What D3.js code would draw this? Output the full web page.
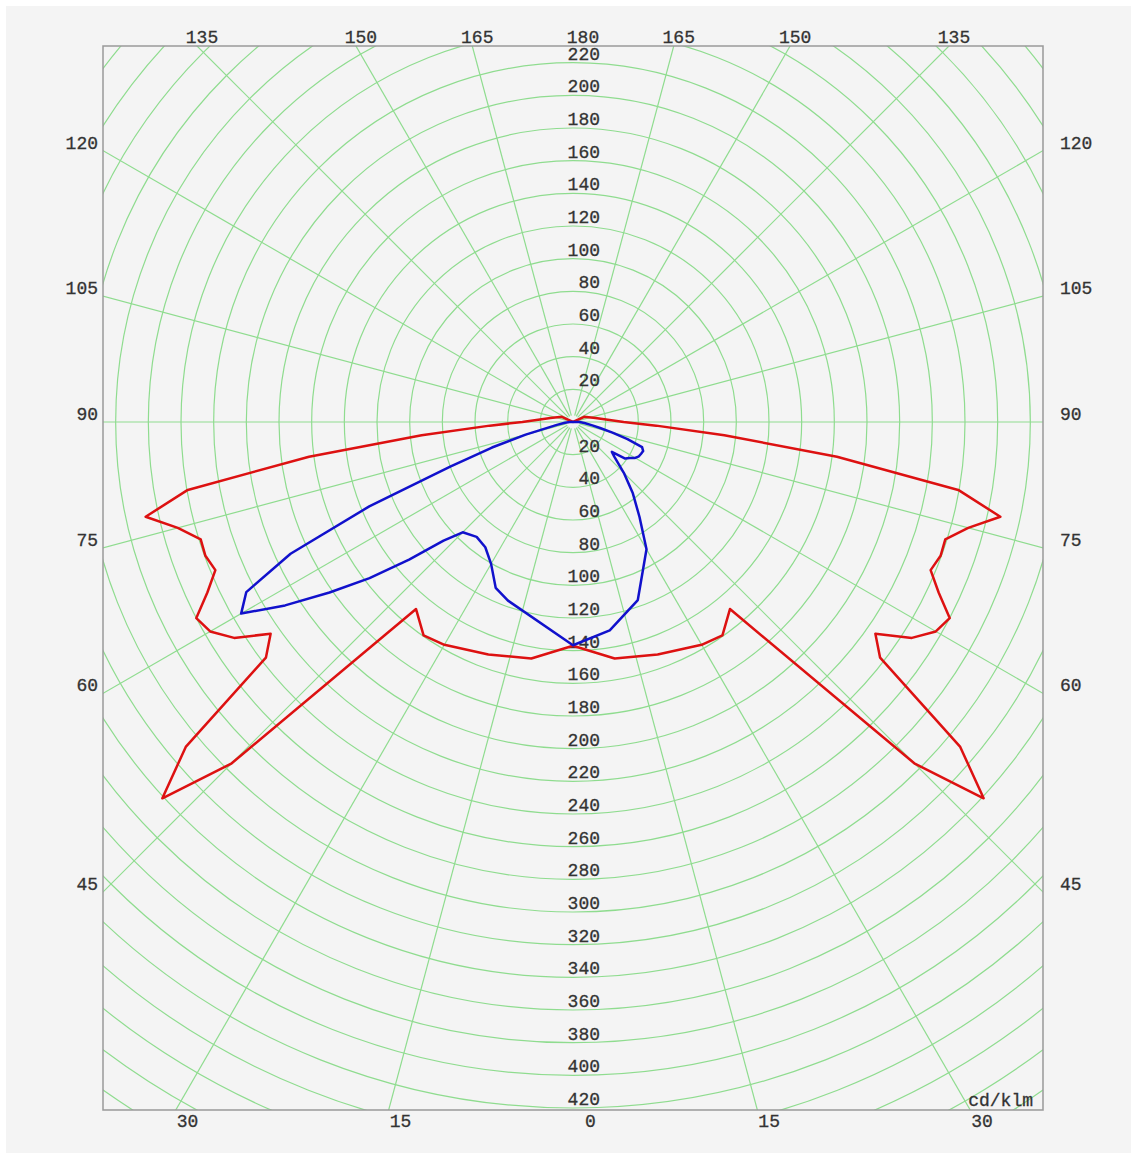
<!DOCTYPE html>
<html>
<head>
<meta charset="utf-8">
<script src="https://cdn.jsdelivr.net/npm/d3@7"></script>
<style>
  body { margin: 0; background: #ffffff; }
  text { font-family: "Liberation Mono", "DejaVu Sans Mono", monospace; font-size: 18px; fill: #333; stroke: #333; stroke-width: 0.3px; }
</style>
</head>
<body>
<script>

// gamma angles (deg) and intensities (cd/klm)
var redGamma = [0, 10, 20, 30, 35, 40, 45, 47.5, 50, 52.5, 55, 57.5, 60, 62.5, 65, 67.5, 70, 72.5, 75, 77.5, 80, 82.5, 85, 87.5, 90, 100, 115, 180];
var redI     = [137, 147, 151.5, 157.5, 159.5, 149.5, 295.5, 341, 309.5, 237, 226, 246, 256.5, 260, 247, 237, 239.5, 239, 250.5, 268, 239.5, 163, 93, 51, 31, 14, 7.5, 0];

var blueLeftGamma = [0, 20, 25, 30, 35, 40, 45, 47.5, 50, 52.5, 55, 57.5, 60, 62.5, 65, 67.5, 70, 72.5, 75, 80, 85, 90, 180];
var blueLeftI     = [136.7, 116.4, 112, 100.3, 93.6, 91.8, 95.5, 107.5, 131, 157, 182, 209, 234.6, 225.5, 190.8, 135, 80, 52, 30, 10, 5, 2, 0];

var blueRightGamma = [0, 10, 20, 30, 35, 40, 45, 50, 52.5, 55, 57.5, 60, 62.5, 65, 67.5, 70, 72.5, 75, 77.5, 80, 85, 90, 180];
var blueRightI     = [136.7, 129.5, 116, 90, 71, 57, 44, 33, 30, 39, 41, 44, 45.5, 46, 46.5, 45, 35, 25, 17, 12, 7, 4, 0];

var ringsUp   = [20, 40, 60, 80, 100, 120, 140, 160, 180, 200, 220];
var ringsDown = [20, 40, 60, 80, 100, 120, 140, 160, 180, 200, 220, 240, 260, 280, 300, 320, 340, 360, 380, 400, 420];
var topAngles    = [135, 150, 165, 180];
var sideAngles   = [120, 105, 90, 75, 60, 45];
var bottomAngles = [0, 15, 30];

var width = 1131, height = 1153
var box = {left: 103, top: 46, right: 1043, bottom: 1110}
var cx = 573, cy = 422

var r = d3.scaleLinear().domain([0, 420]).range([0, 686]);
var rad = function(a) { return a * Math.PI / 180; }

var svg = d3.select("body").append("svg")
    .attr("width", width)
    .attr("height", height);

svg.append("rect")
  .attr("x", 6).attr("y", 6)
  .attr("width", width - 6).attr("height", height - 6)
  .attr("fill", "#f4f4f4");

svg.append("clipPath").attr("id", "plot")
  .append("rect")
  .attr("x", box.left).attr("y", box.top)
  .attr("width", box.right - box.left).attr("height", box.bottom - box.top);

var grid = svg.append("g").attr("clip-path", "url(#plot)");

// rings every 20
grid.selectAll("circle")
  .data(d3.range(20, 520, 20))
  .enter().append("circle")
  .attr("cx", cx).attr("cy", cy)
  .attr("r", function(d) { return r(d); })
  .attr("fill", "none")
  .attr("stroke", "#8fdc8f")
  .attr("stroke-width", 1.2);

// spokes every 15 deg (none on the vertical)
var spokes = d3.range(15, 360, 15).filter(function(a) { return a !== 180; });
grid.selectAll("path.spoke")
  .data(spokes)
  .enter().append("path")
  .attr("class", "spoke")
  .attr("d", function(a) {
    return "M" + (cx + r(4) * Math.sin(rad(a))) + "," + (cy + r(4) * Math.cos(rad(a)))
      + "L" + (cx + r(600) * Math.sin(rad(a))) + "," + (cy + r(600) * Math.cos(rad(a)));
  })
  .attr("fill", "none")
  .attr("stroke", "#8fdc8f")
  .attr("stroke-width", 1.2);

svg.append("rect")
  .attr("x", box.left).attr("y", box.top)
  .attr("width", box.right - box.left).attr("height", box.bottom - box.top)
  .attr("fill", "none")
  .attr("stroke", "#999")
  .attr("stroke-width", 1.5);

// radius labels
svg.selectAll("text.up")
  .data(ringsUp)
  .enter().append("text")
  .attr("class", "up")
  .attr("x", 600)
  .attr("y", function(d) { return cy - r(d) - 3; })
  .attr("text-anchor", "end")
  .text(function(d) { return d; });

svg.selectAll("text.down")
  .data(ringsDown)
  .enter().append("text")
  .attr("class", "down")
  .attr("x", 600)
  .attr("y", function(d) { return cy + r(d) - 3; })
  .attr("text-anchor", "end")
  .text(function(d) { return d; });

// angle labels where spokes meet the frame
var sideY = function(a) { return cy + (box.right - cx) / Math.tan(rad(a)); };
var topX = function(a) { return (box.top - cy) * Math.tan(rad(a)); };
var botX = function(a) { return (box.bottom - cy) * Math.tan(rad(a)); };

sideAngles.forEach(function(a) {
  svg.append("text").attr("x", 98).attr("y", sideY(a) - 2)
    .attr("text-anchor", "end").text(a);
  svg.append("text").attr("x", 1060).attr("y", sideY(a) - 2)
    .text(a);
});

topAngles.forEach(function(a) {
  var off = a === 180 ? 10 : 5;
  [-1, 1].forEach(function(s) {
    if (a === 180 && s > 0) return;
    svg.append("text").attr("x", cx + s * topX(a) + off).attr("y", box.top - 3)
      .attr("text-anchor", "middle").text(a);
  });
});

bottomAngles.forEach(function(a) {
  var off = a === 0 ? 12 : 1;
  [-1, 1].forEach(function(s) {
    if (a === 0 && s > 0) return;
    svg.append("text").attr("x", cx + s * botX(a) + off).attr("y", 1127)
      .text(a);
  });
});

svg.append("text")
  .attr("x", 1033).attr("y", 1106)
  .attr("text-anchor", "end")
  .text("cd/klm");

// curves: left half uses angle pi+gamma, right half pi-gamma
var line = d3.lineRadial()
  .angle(function(d) { return d.a; })
  .radius(function(d) { return r(d.i); });

function curve(gl, il, gr, ir) {
  var pts = [];
  for (var k = gl.length - 1; k >= 0; k--) pts.push({a: Math.PI + rad(gl[k]), i: il[k]});
  for (var k = 0; k < gr.length; k++) pts.push({a: Math.PI - rad(gr[k]), i: ir[k]});
  return pts;
}

var plot = svg.append("g")
  .attr("clip-path", "url(#plot)")
  .append("g")
  .attr("transform", "translate(" + cx + "," + cy + ")");

plot.append("path")
  .attr("d", line(curve(redGamma, redI, redGamma, redI)))
  .attr("stroke", "#dd1111")
  .attr("stroke-width", 2.5)
  .attr("stroke-linejoin", "round")
  .attr("fill", "none");

plot.append("path")
  .attr("d", line(curve(blueLeftGamma, blueLeftI, blueRightGamma, blueRightI)))
  .attr("stroke", "#1111cc")
  .attr("stroke-width", 2.5)
  .attr("stroke-linejoin", "round")
  .attr("fill", "none");

</script>
</body>
</html>
